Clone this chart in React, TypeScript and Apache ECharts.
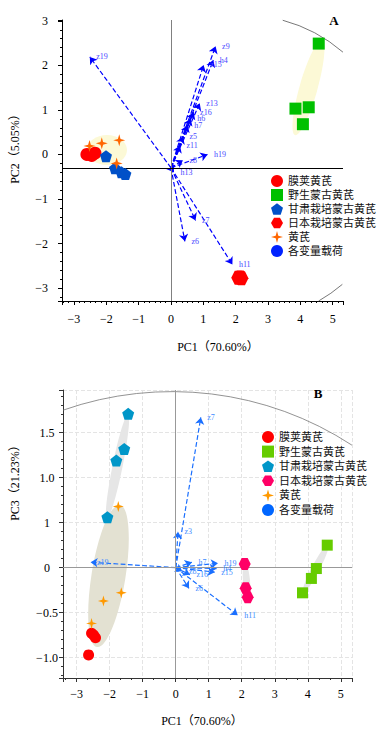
import React, { useEffect, useRef } from "react";
import * as echarts from "echarts";

const FONT = "'Liberation Serif', 'Times New Roman', 'Noto Sans CJK SC', serif";

const groupNames = ["膜荚黄芪", "野生蒙古黄芪", "甘肃栽培蒙古黄芪", "日本栽培蒙古黄芪", "黄芪", "各变量载荷"];

// ---- Chart A (PC1 vs PC2) ----
const mojiaA = [[-2.6, 0.0], [-2.45, -0.02], [-2.35, 0.03]];
const wildA = [[4.57, 2.49], [3.85, 1.03], [4.26, 1.06], [4.08, 0.68]];
const gansuA = [[-2.01, -0.04], [-1.73, -0.31], [-1.53, -0.4], [-1.41, -0.44]];
const japanA = [[2.08, -2.77], [2.14, -2.76], [2.18, -2.78]];
const huangqiA = [[-2.52, 0.19], [-2.14, 0.25], [-1.6, 0.32], [-1.68, -0.2]];
const loadOriginA = [0, -0.3];
const loadNamesA = ["z19", "z9", "h4", "z15", "z13", "z16", "h6", "h7", "z5", "z11", "h19", "z8", "h13", "z7", "z6", "h11"];
const loadXA = [-2.51, 1.38, 1.31, 1.01, 0.89, 0.7, 0.61, 0.52, 0.37, 0.28, 1.13, 0.37, 0.09, 0.76, 0.43, 1.9];
const loadYA = [2.19, 2.43, 2.12, 2.01, 1.15, 0.95, 0.81, 0.66, 0.4, 0.2, 0.0, -0.13, -0.4, -1.48, -1.95, -2.47];

// ---- Chart B (PC1 vs PC3) ----
const mojiaB = [[-2.64, -0.97], [-2.55, -0.73], [-2.43, -0.78], [-2.49, -0.75]];
const wildB = [[4.59, 0.25], [4.26, -0.01], [4.11, -0.12], [3.84, -0.28]];
const gansuB = [[-1.44, 1.71], [-1.56, 1.32], [-1.8, 1.19], [-2.07, 0.56]];
const japanB = [[2.09, 0.04], [2.12, -0.23], [2.18, -0.33]];
const huangqiB = [[-1.74, 0.68], [-1.65, -0.28], [-2.19, -0.37], [-2.55, -0.62]];
const loadOriginB = [0, 0];
const loadNamesB = ["z7", "z3", "z19", "h11", "z6", "h7", "h19", "h4", "z15", "z16", "z8"];
const loadXB = [0.76, 0.07, -2.58, 1.88, 0.4, 0.49, 1.28, 1.24, 1.18, 0.43, 0.2];
const loadYB = [1.67, 0.4, 0.06, -0.53, -0.23, 0.06, 0.05, -0.01, -0.05, -0.08, -0.04];

const PENTAGON = "path://M0,-1 L0.951,-0.309 L0.588,0.809 L-0.588,0.809 L-0.951,-0.309 Z";
const HEXAGON = "path://M-1,0 L-0.5,-0.866 L0.5,-0.866 L1,0 L0.5,0.866 L-0.5,0.866 Z";
const STAR = "path://M0,-1 L0.22,-0.22 L1,0 L0.22,0.22 L0,1 L-0.22,0.22 L-1,0 L-0.22,-0.22 Z";
const icons = ["circle", "rect", PENTAGON, HEXAGON, STAR, "circle"];
const colorsA = ["#ff0000", "#00c000", "#0050c8", "#ff0000", "#ff6600", "#0022ff"];
const colorsB = ["#ff0000", "#66cc00", "#0096c8", "#ff0066", "#ff9900", "#0066ff"];

const minus = (s: string) => s.replace("-", "−");

export default function App() {
  const ref = useRef<HTMLDivElement>(null);
  useEffect(() => {
    if (!ref.current) return;
    const chart = echarts.init(ref.current, null, { renderer: "svg" });

    const groupsA = [mojiaA, wildA, gansuA, japanA, huangqiA];
    const groupsB = [mojiaB, wildB, gansuB, japanB, huangqiB];
    const sizesA = [13, 12, 12, 14, 12];
    const sizesB = [11, 11, 12, 12, 11];

    const scatterSeries: any[] = [];
    groupsA.forEach((g, i) => {
      scatterSeries.push({
        type: "scatter", name: groupNames[i], xAxisIndex: 0, yAxisIndex: 0,
        symbol: icons[i], symbolSize: sizesA[i], itemStyle: { color: colorsA[i], opacity: 1 },
        data: g, z: 5, silent: true,
      });
    });
    groupsB.forEach((g, i) => {
      scatterSeries.push({
        type: "scatter", name: groupNames[i], xAxisIndex: 1, yAxisIndex: 1,
        symbol: icons[i], symbolSize: sizesB[i], itemStyle: { color: colorsB[i], opacity: 1 },
        data: g, z: 5, silent: true,
      });
    });

    const loadingSeries = (idx: number, names: string[], xs: number[], ys: number[], origin: number[], color: string, labelColor: string, refLines: any[]) => [
      {
        type: "lines", name: groupNames[5], coordinateSystem: "cartesian2d", xAxisIndex: idx, yAxisIndex: idx,
        symbol: ["none", "arrow"], symbolSize: 7, silent: true,
        lineStyle: { color, width: 1.2, type: "dashed", opacity: 1 },
        data: names.map((n, i) => ({ name: n, coords: [origin, [xs[i], ys[i]]] })),
        z: 4,
      },
      {
        type: "scatter", name: groupNames[5] + " ", xAxisIndex: idx, yAxisIndex: idx,
        symbol: "circle", symbolSize: 1, itemStyle: { color: "rgba(255,255,255,0)" }, silent: true,
        data: names.map((n, i) => ({ name: n, value: [xs[i], ys[i]] })),
        label: { show: true, position: "right", distance: 6, formatter: "{b}", fontSize: 8, fontFamily: FONT, color: labelColor, opacity: 1 },
        labelLayout: { hideOverlap: false },
        markLine: { silent: true, symbol: "none", label: { show: false }, data: refLines, animation: false },
        z: 6,
      },
    ];

    const axisCommon = (color: string) => ({
      type: "value",
      axisLine: { show: true, onZero: false, lineStyle: { color, width: 1 } },
      axisTick: { show: true, inside: false, length: 4, lineStyle: { color } },
      axisLabel: { showMinLabel: false, showMaxLabel: false, fontSize: 12, fontFamily: FONT, color: "#000" },
    });

    const option: any = {
      animation: false,
      backgroundColor: "#fff",
      grid: [
        { left: 62, top: 20, width: 281, height: 281 },
        { left: 63, top: 390, width: 289, height: 288 },
      ],
      xAxis: [
        {
          ...axisCommon("#000"), gridIndex: 0, min: -3.37, max: 5.32, splitNumber: 9,
          splitLine: { show: false },
          minorTick: { show: true, splitNumber: 6, length: 2, lineStyle: { color: "#000" } },
          axisLabel: { ...axisCommon("#000").axisLabel, margin: 12, formatter: (v: number) => minus(String(v)) },
        },
        {
          ...axisCommon("#333"), gridIndex: 1, min: -3.415, max: 5.34, splitNumber: 9,
          splitLine: { show: true, lineStyle: { color: "#e4e4e4", type: "dashed" } },
          minorTick: { show: true, splitNumber: 3, length: 2, lineStyle: { color: "#333" } },
          axisLabel: { ...axisCommon("#333").axisLabel, margin: 10, formatter: (v: number) => minus(String(v)) },
        },
      ],
      yAxis: [
        {
          ...axisCommon("#000"), gridIndex: 0, min: -3.29, max: 3.02,
          splitLine: { show: false },
          minorTick: { show: true, splitNumber: 5, length: 2, lineStyle: { color: "#000" } },
          axisLabel: { ...axisCommon("#000").axisLabel, margin: 14, formatter: (v: number) => minus(String(v)) },
        },
        {
          ...axisCommon("#333"), gridIndex: 1, min: -1.227, max: 1.975,
          splitLine: { show: true, lineStyle: { color: "#e4e4e4", type: "dashed" } },
          minorTick: { show: true, splitNumber: 5, length: 2, lineStyle: { color: "#333" } },
          axisLabel: {
            ...axisCommon("#333").axisLabel, margin: 16, align: "center",
            formatter: (v: number) => (v === 0 ? "0" : v === 0.5 ? "1" : minus(v.toFixed(1))),
          },
        },
      ],
      legend: [
        {
          orient: "vertical", left: 271, top: 174, padding: 0, itemWidth: 12, itemHeight: 12, itemGap: 0,
          selectedMode: false,
          textStyle: { fontSize: 11, fontFamily: FONT, color: "#111", lineHeight: 14 },
          data: groupNames.map((n, i) => ({ name: n, icon: icons[i], itemStyle: { color: colorsA[i], borderWidth: 0 } })),
        },
        {
          orient: "vertical", left: 262, top: 430, padding: 0, itemWidth: 12, itemHeight: 12, itemGap: 0.6,
          selectedMode: false,
          textStyle: { fontSize: 11, fontFamily: FONT, color: "#111", lineHeight: 14 },
          data: groupNames.map((n, i) => ({ name: n, icon: icons[i], itemStyle: { color: colorsB[i], borderWidth: 0 } })),
        },
      ],
      graphic: [
        { type: "arc", silent: true, z: 1, shape: { cx: 243, cy: 168, r: 153, startAngle: -1.308, endAngle: -0.859, clockwise: true }, style: { stroke: "#555", lineWidth: 0.8, fill: null } },
        { type: "arc", silent: true, z: 1, shape: { cx: 243, cy: 168, r: 153, startAngle: 0.864, endAngle: 1.054, clockwise: true }, style: { stroke: "#555", lineWidth: 0.8, fill: null } },
        { type: "arc", silent: true, z: 1, shape: { cx: 172, cy: 720.6, r: 329, startAngle: -1.908, endAngle: -0.992, clockwise: true }, style: { stroke: "#777", lineWidth: 0.8, fill: null } },
        { type: "ellipse", silent: true, z: 1, x: 308.5, y: 88, rotation: -0.277, shape: { cx: 0, cy: 0, rx: 9, ry: 49 }, style: { fill: "#fcf9d6" } },
        { type: "ellipse", silent: true, z: 1, x: 107, y: 150, rotation: 0, shape: { cx: 0, cy: 0, rx: 20, ry: 15 }, style: { fill: "#fcf9d6" } },
        { type: "ellipse", silent: true, z: 1, x: 108.5, y: 576, rotation: -0.16, shape: { cx: 0, cy: 0, rx: 17, ry: 72 }, style: { fill: "#e3e1d2" } },
        { type: "ellipse", silent: true, z: 1, x: 117.5, y: 466.5, rotation: -0.2, shape: { cx: 0, cy: 0, rx: 5, ry: 53 }, style: { fill: "#e6e6e6" } },
        { type: "ellipse", silent: true, z: 1, x: 246.5, y: 580.5, rotation: 0.09, shape: { cx: 0, cy: 0, rx: 3.5, ry: 18 }, style: { fill: "#e6e6e6" } },
        { type: "ellipse", silent: true, z: 1, x: 315.5, y: 569, rotation: -0.48, shape: { cx: 0, cy: 0, rx: 4, ry: 27 }, style: { fill: "#e6e6e6" } },
        { type: "text", silent: true, z: 10, x: 15, y: 146, rotation: Math.PI / 2, style: { text: "PC2（5.05%）", font: `12px ${FONT}`, fill: "#000", align: "center", verticalAlign: "middle", textAlign: "center", textVerticalAlign: "middle" } },
        { type: "text", silent: true, z: 10, x: 15, y: 480, rotation: Math.PI / 2, style: { text: "PC3（21.23%）", font: `12px ${FONT}`, fill: "#000", align: "center", verticalAlign: "middle", textAlign: "center", textVerticalAlign: "middle" } },
        { type: "text", silent: true, z: 10, x: 218, y: 347, style: { text: "PC1（70.60%）", font: `12px ${FONT}`, fill: "#000", align: "center", verticalAlign: "middle", textAlign: "center", textVerticalAlign: "middle" } },
        { type: "text", silent: true, z: 10, x: 202, y: 721, style: { text: "PC1（70.60%）", font: `12px ${FONT}`, fill: "#000", align: "center", verticalAlign: "middle", textAlign: "center", textVerticalAlign: "middle" } },
        { type: "text", silent: true, z: 10, x: 334, y: 20, style: { text: "A", font: `bold 13px ${FONT}`, fill: "#000", align: "center", verticalAlign: "middle", textAlign: "center", textVerticalAlign: "middle" } },
        { type: "text", silent: true, z: 10, x: 318, y: 393, style: { text: "B", font: `bold 13px ${FONT}`, fill: "#000", align: "center", verticalAlign: "middle", textAlign: "center", textVerticalAlign: "middle" } },
      ],
      series: [
        ...loadingSeries(0, loadNamesA, loadXA, loadYA, loadOriginA, "#0000ff", "#4a4aff",
          [{ xAxis: 0, lineStyle: { color: "#808080", width: 1, type: "solid" } }, { yAxis: -0.3, lineStyle: { color: "#000", width: 1, type: "solid" } }]),
        ...loadingSeries(1, loadNamesB, loadXB, loadYB, loadOriginB, "#1a6fff", "#3d8bff",
          [{ xAxis: 0, lineStyle: { color: "#999", width: 1, type: "solid" } }, { yAxis: 0, lineStyle: { color: "#999", width: 1, type: "solid" } }]),
        ...scatterSeries,
      ],
    };
    chart.setOption(option);
    return () => chart.dispose();
  }, []);
  return <div ref={ref} style={{ position: "fixed", left: 0, top: 0, width: 382, height: 737, background: "#fff" }} />;
}
